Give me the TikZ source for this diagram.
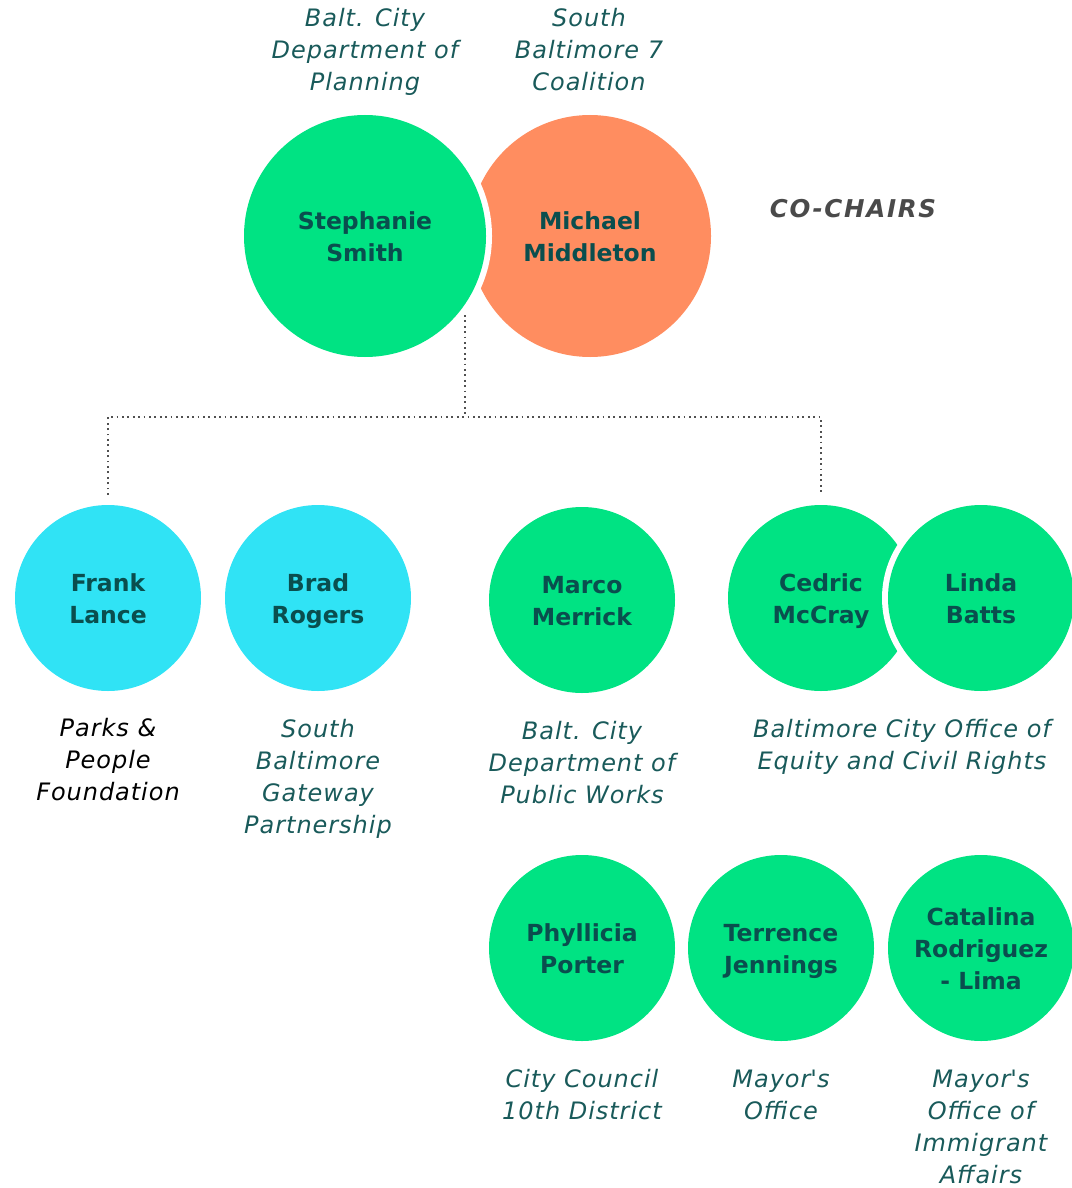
\documentclass[tikz,border=0pt]{standalone}
\usepackage{fontspec}
\setmainfont{DejaVu Sans}
\newfontfamily\orgfont{DejaVu Sans}[LetterSpace=4]
\newfontfamily\chairfont{DejaVu Sans}[LetterSpace=7]
\definecolor{pgreen}{RGB}{0,227,131}
\definecolor{porange}{RGB}{255,141,96}
\definecolor{pcyan}{RGB}{48,227,245}
\definecolor{namec}{RGB}{10,78,78}
\definecolor{orgc}{RGB}{25,90,90}
\definecolor{chairc}{RGB}{74,74,74}
\definecolor{dotc}{RGB}{80,80,80}
\begin{document}
\begin{tikzpicture}[x=1pt,y=-1pt,
  person/.style={circle, minimum size=186pt, inner sep=0pt},
  big/.style={person, minimum size=242pt},
  names/.style={align=center, inner sep=0pt, yshift=-4pt,
    font=\fontsize{23.5}{32}\selectfont\bfseries, text=namec,
    execute at end node={\rule[-7pt]{0pt}{7pt}}},
  gap/.style={circle, fill=white, inner sep=0pt},
  org/.style={font=\orgfont\fontsize{24}{32}\selectfont\itshape, text=orgc, align=center,
    inner sep=0pt,
    execute at begin node={\rule{0pt}{24pt}},
    execute at end node={\rule[-8pt]{0pt}{8pt}}},
  link/.style={draw=dotc, line width=2pt, dash pattern=on 1.8pt off 3.6pt}]
\useasboundingbox (0,0) rectangle (1071,1188);

% co-chairs
\node[big, fill=porange, label={[names]center:{Michael\\Middleton}}] (michael) at (590,236) {};
\node[gap, minimum size=254pt] (ssgap) at (365,236) {};
\node[big, fill=pgreen, label={[names]center:{Stephanie\\Smith}}] (stephanie) at (365,236) {};
\node[org] (planning) at (365,53.7) {Balt. City\\Department of\\Planning};
\node[org] (sb7) at (589,53.7) {South\\Baltimore 7\\Coalition};
\node[font=\chairfont\fontsize{24.5}{30}\selectfont\bfseries\itshape, text=chairc] (cochairs) at (853,209) {CO-CHAIRS};

% second row
\node[person, fill=pcyan, label={[names]center:{Frank\\Lance}}] (frank) at (108,598) {};
\node[person, fill=pcyan, label={[names]center:{Brad\\Rogers}}] (brad) at (318,598) {};
\node[person, fill=pgreen, label={[names]center:{Marco\\Merrick}}] (marco) at (582,600) {};
\node[person, fill=pgreen, label={[names]center:{Cedric\\McCray}}] (cedric) at (821,598) {};
\node[gap, minimum size=198pt] (lbgap) at (981,598) {};
\node[person, fill=pgreen, label={[names]center:{Linda\\Batts}}] (linda) at (981,598) {};

\node[org, text=black] (parks) at (108,763.7) {Parks \&\\People\\Foundation};
\node[org] (sbgp) at (318,780.7) {South\\Baltimore\\Gateway\\Partnership};
\node[org] (dpw) at (582,766.7) {Balt. City\\Department of\\Public Works};
\node[org] (equity) at (902,748.7) {Baltimore City Office of\\Equity and Civil Rights};

% third row
\node[person, fill=pgreen, label={[names]center:{Phyllicia\\Porter}}] (phyllicia) at (582,948) {};
\node[person, fill=pgreen, label={[names]center:{Terrence\\Jennings}}] (terrence) at (781,948) {};
\node[person, fill=pgreen, label={[names]center:{Catalina\\Rodriguez\\- Lima}}] (catalina) at (981,948) {};

\node[org] (council) at (582,1098.7) {City Council\\10th District};
\node[org] (mayor) at (781,1099) {Mayor\textquotesingle s\\Office};
\node[org] (immig) at (981,1130.7) {Mayor\textquotesingle s\\Office of\\Immigrant\\Affairs};

% connectors
\coordinate (stap) at (465,315);
\coordinate (hub) at (465,417);
\draw[link] (stap) -- (hub);
\draw[link] ([yshift=10pt]frank.north) |- (hub) -| ([yshift=10pt]cedric.north);
\end{tikzpicture}
\end{document}
